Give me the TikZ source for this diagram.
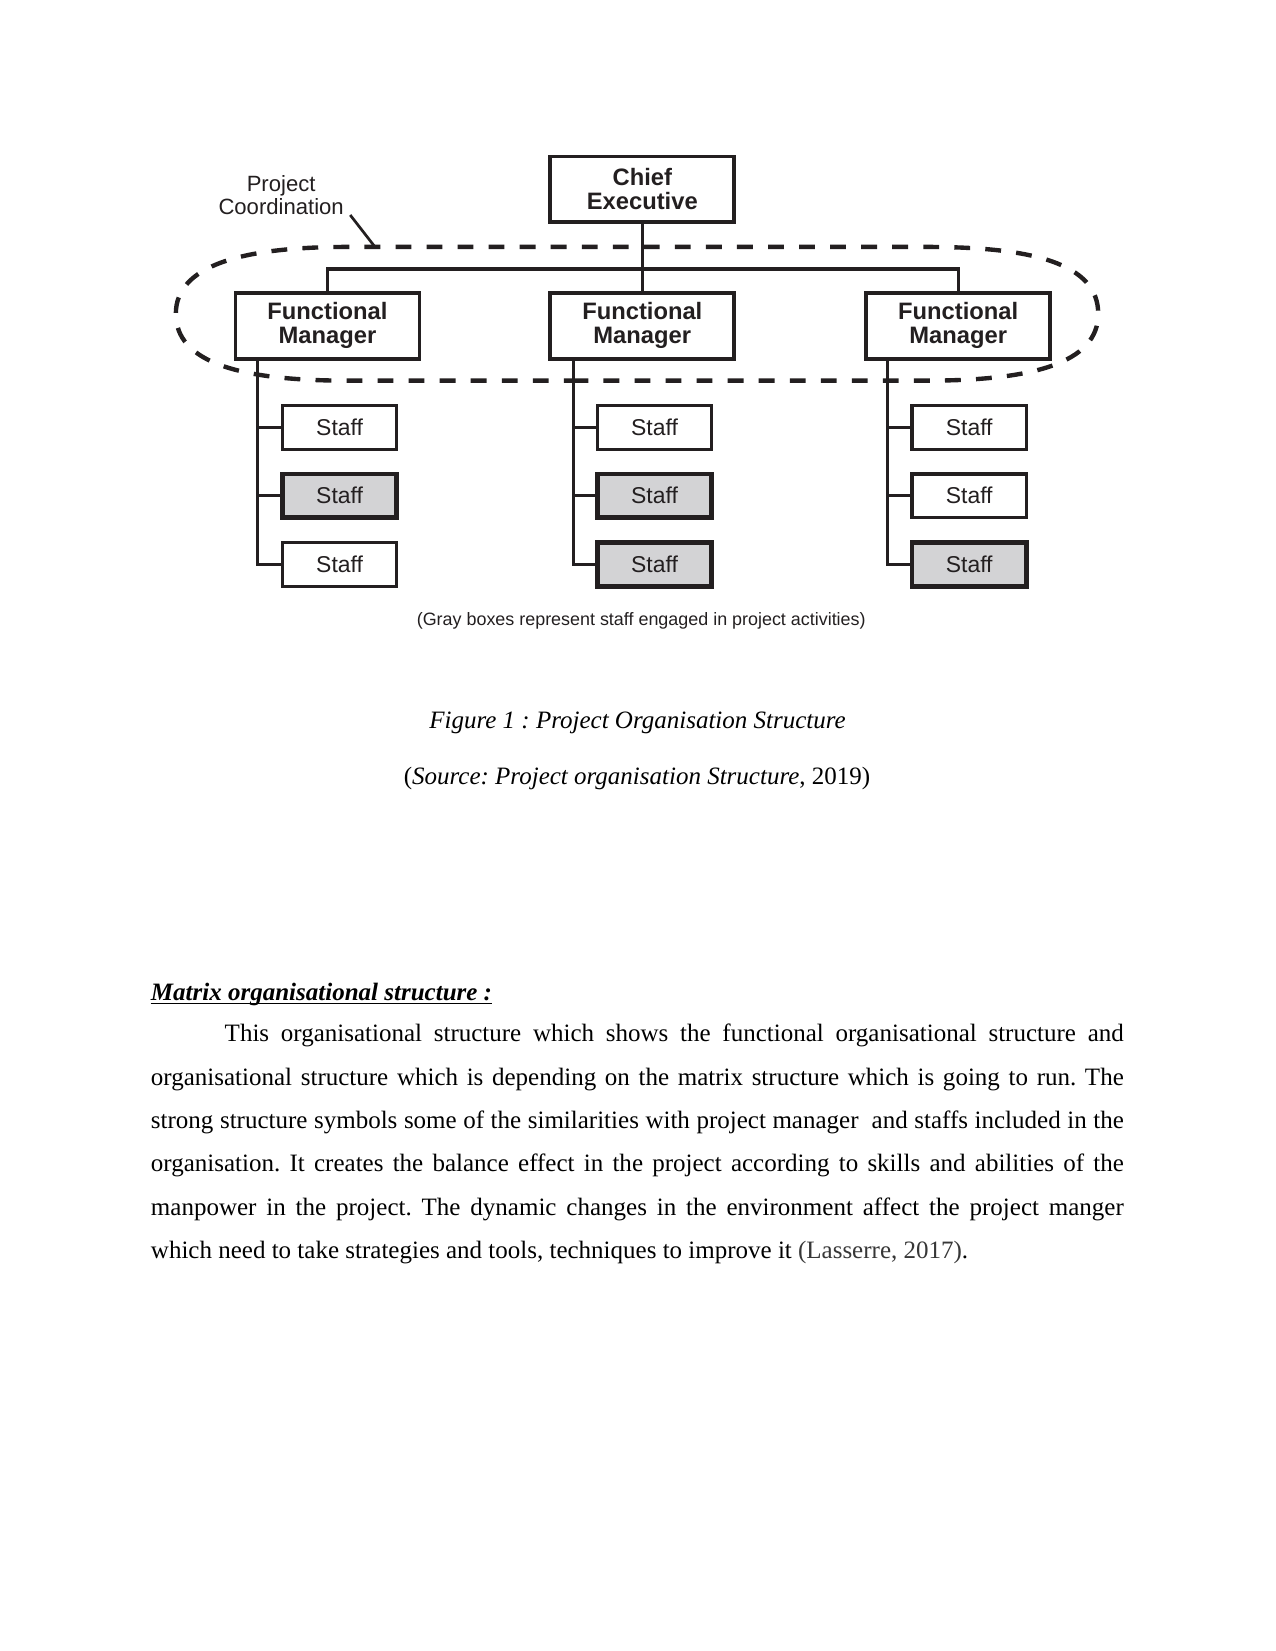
\documentclass[tikz,border=0pt]{standalone}
\usepackage{fontspec}
\setmainfont{Liberation Serif}
\newfontfamily\diagfont{Liberation Sans}
\definecolor{ink}{RGB}{35,31,32}
\definecolor{staffgray}{RGB}{211,211,213}
\definecolor{citegray}{RGB}{55,55,55}
\frenchspacing
\begin{document}
\begin{tikzpicture}[x=0.50537pt,y=-0.50537pt,
  box/.style={draw=ink, line width=1.8pt, inner sep=0pt, align=center, text=ink},
  mgrbox/.style={box, minimum width=88.3pt, minimum height=31.8pt,
    font=\diagfont\bfseries\fontsize{11.4}{11.4}\selectfont},
  staffbox/.style={box, line width=1.6pt, minimum width=54.8pt, minimum height=21.0pt,
    font=\diagfont\fontsize{11}{13}\selectfont},
  engaged/.style={staffbox, line width=2.2pt, fill=staffgray},
  conn/.style={draw=ink, line width=1.5pt},
  coord/.style={draw=ink, line width=2.1pt, dash pattern=on 7.6pt off 7.3pt, dash phase=3pt},
  serif12/.style={inner sep=0pt, font=\fontsize{12}{14}\selectfont}
]
\fill[white] (0,0) rectangle (1211,1568);
\useasboundingbox (0,0) rectangle (1211,1568);

% dashed project coordination boundary (starts under the middle trunk line)
\draw[coord] (544.6,361.5) -- (330,361.5)
  .. controls (230,361.5) and (167,345) .. (167,298)
  .. controls (167,252) and (230,234.5) .. (330,234.5)
  -- (880,234.5)
  .. controls (980,234.5) and (1043,250) .. (1043,298)
  .. controls (1043,345) and (980,361.5) .. (880,361.5)
  -- cycle;

% top level
\node[mgrbox, minimum height=31.3pt] (chief) at (610,179.7) {Chief\\Executive};
\node[mgrbox] (fm1) at (311,309.4) {Functional\\Manager};
\node[mgrbox] (fm2) at (610,309.4) {Functional\\Manager};
\node[mgrbox] (fm3) at (910,309.4) {Functional\\Manager};

\coordinate (bus) at (610,255.5);
\draw[conn] (chief.south) -- (fm2.north);
\draw[conn] (fm1.north) |- (bus) -| (fm3.north);

% project coordination label
\node[inner sep=0pt, align=center, text=ink,
  font=\diagfont\fontsize{10.6}{11.3}\selectfont] (pc) at (267,185.5) {Project\\Coordination};
\coordinate (pcA) at (332.6,204.2);
\coordinate (pcB) at (355.5,233.7);
\draw[conn, line width=1.3pt] (pcA) -- (pcB);

% staff columns
\node[staffbox] (s11) at (322.5,406) {Staff};
\node[engaged]  (s12) at (322.5,470.8) {Staff};
\node[staffbox] (s13) at (322.5,536.2) {Staff};
\node[staffbox] (s21) at (621.6,406) {Staff};
\node[engaged]  (s22) at (621.6,470.8) {Staff};
\node[engaged]  (s23) at (621.6,536.2) {Staff};
\node[staffbox] (s31) at (920.5,406) {Staff};
\node[staffbox] (s32) at (920.5,470.8) {Staff};
\node[engaged]  (s33) at (920.5,536.2) {Staff};

\coordinate (t1) at (244.7,342.6);
\coordinate (t2) at (544.6,342.6);
\coordinate (t3) at (842.8,342.6);
\draw[conn] (t1) |- (s13.west);
\draw[conn] (s11.west) -- (s11.west -| t1);
\draw[conn] (s12.west) -- (s12.west -| t1);
\draw[conn] (t2) |- (s23.west);
\draw[conn] (s21.west) -- (s21.west -| t2);
\draw[conn] (s22.west) -- (s22.west -| t2);
\draw[conn] (t3) |- (s33.west);
\draw[conn] (s31.west) -- (s31.west -| t3);
\draw[conn] (s32.west) -- (s32.west -| t3);

\node[anchor=base, inner sep=0pt, text=ink, font=\diagfont\fontsize{8.6}{10}\selectfont]
  (note) at (609,593.6) {(Gray boxes represent staff engaged in project activities)};

% figure caption
\node[serif12, anchor=base] (cap1) at (605.5,691.8) {\itshape Figure 1 : Project Organisation Structure};
\node[serif12, anchor=base] (cap2) at (605,745) {(\textit{Source: Project organisation Structure}, 2019)};

% heading
\node[serif12, anchor=base west, font=\bfseries\itshape\fontsize{12}{14}\selectfont] (head) at (143,950)
  {Matrix organisational structure :};
\draw[line width=0.6pt] ([yshift=-1.4pt]head.base west) -- ([yshift=-1.4pt]head.base east);

% paragraph
\node[anchor=base west, inner sep=0pt, font=\fontsize{12}{20.8}\selectfont] (para) at (143,989.4)
{\parbox[t]{466.9pt}{\hyphenpenalty=10000\tolerance=10000\parindent=35.4pt\indent
This organisational structure which shows the functional organisational structure and\linebreak
organisational structure which is depending on the matrix structure which is going to run. The\linebreak
strong structure symbols some of the similarities with project manager\ \ and staffs included in the\linebreak
organisation. It creates the balance effect in the project according to skills and abilities of the\linebreak
manpower in the project. The dynamic changes in the environment affect the project manger\linebreak
which need to take strategies and tools, techniques to improve it {\color{citegray}(Lasserre, 2017)}.}};
\end{tikzpicture}
\end{document}
